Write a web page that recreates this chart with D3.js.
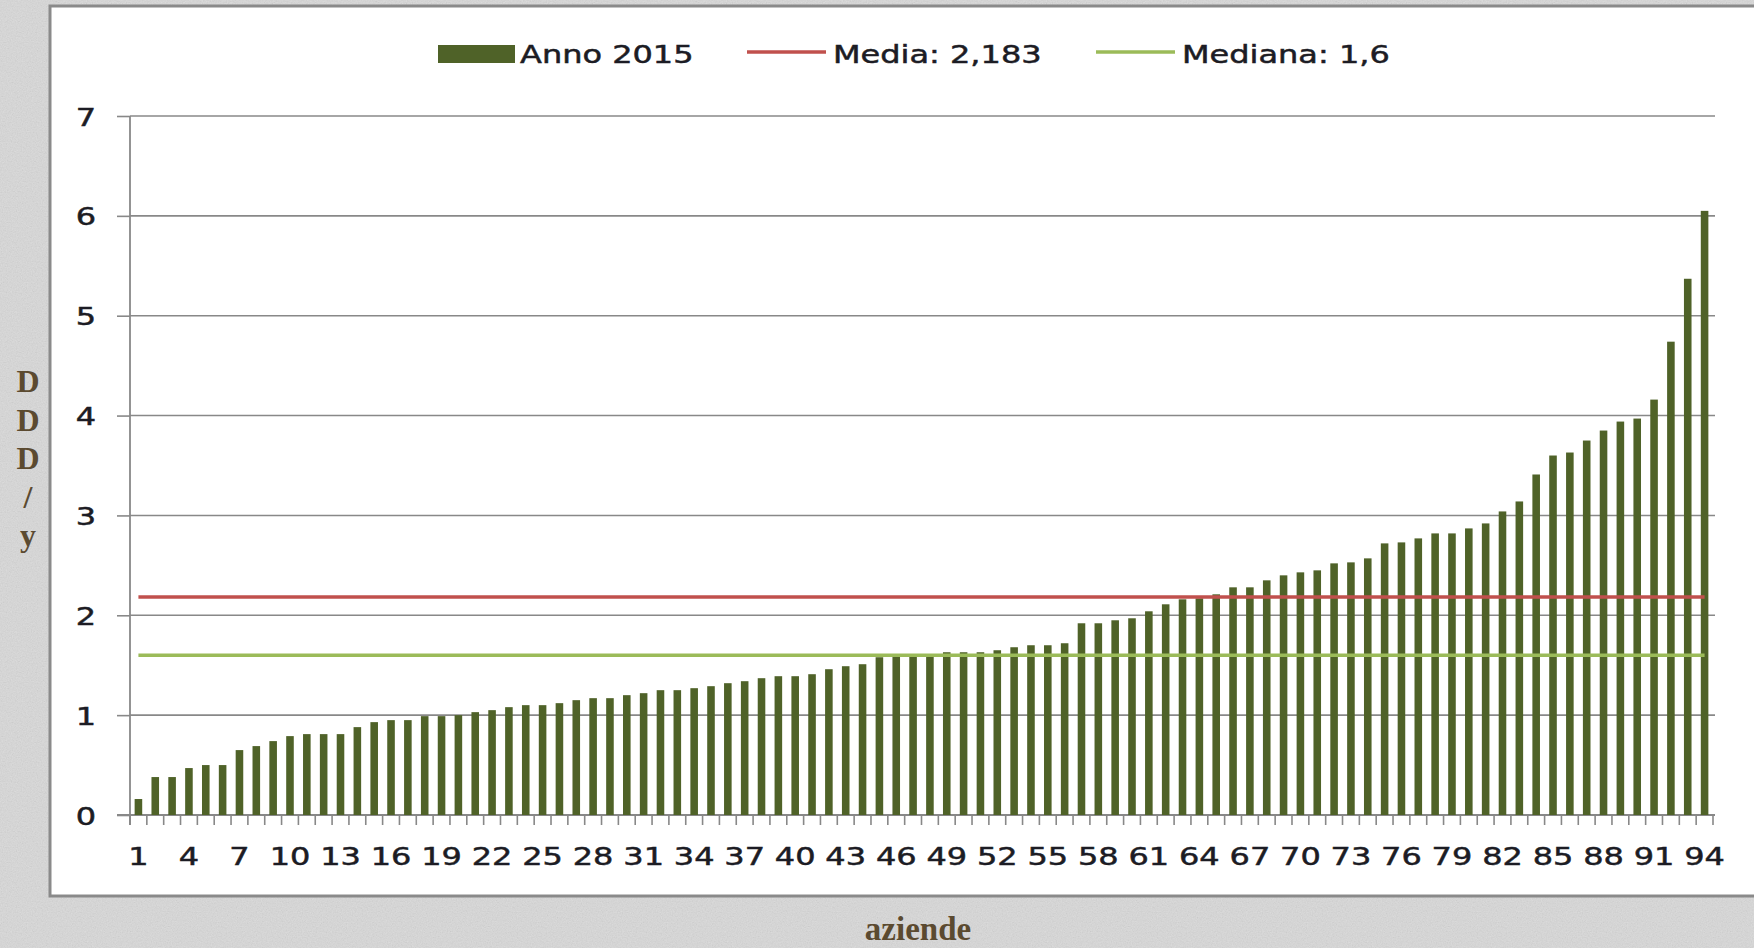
<!DOCTYPE html>
<html>
<head>
<meta charset="utf-8">
<script src="https://cdn.jsdelivr.net/npm/d3@7"></script>
<style>
  body { margin: 0; background: #d9d9d9; overflow: hidden; }
</style>
</head>
<body>
<div id="chart"></div>
<script>
// data
const aziende = d3.range(1, 95);
const anno2015 = [
  0.16, 0.38, 0.38, 0.47, 0.50, 0.50, 0.65, 0.69, 0.74, 0.79,
  0.81, 0.81, 0.81, 0.88, 0.93, 0.95, 0.95, 0.99, 0.99, 1.00,
  1.03, 1.05, 1.08, 1.10, 1.10, 1.12, 1.15, 1.17, 1.17, 1.20,
  1.22, 1.25, 1.25, 1.27, 1.29, 1.32, 1.34, 1.37, 1.39, 1.39,
  1.41, 1.46, 1.49, 1.51, 1.58, 1.59, 1.60, 1.60, 1.63, 1.63,
  1.63, 1.65, 1.68, 1.70, 1.70, 1.72, 1.92, 1.92, 1.95, 1.97,
  2.04, 2.11, 2.16, 2.17, 2.21, 2.28, 2.28, 2.35, 2.40, 2.43,
  2.45, 2.52, 2.53, 2.57, 2.72, 2.73, 2.77, 2.82, 2.82, 2.87,
  2.92, 3.04, 3.14, 3.41, 3.60, 3.63, 3.75, 3.85, 3.94, 3.97,
  4.16, 4.74, 5.37, 6.05
];
const media = 2.183;
const mediana = 1.6;
const yTicks = [0, 1, 2, 3, 4, 5, 6, 7];
const xLabels = aziende.filter((d, i) => i % 3 === 0);
const legendItems = [
  { key: "Anno 2015", type: "bar" },
  { key: "Media: 2,183", type: "media" },
  { key: "Mediana: 1,6", type: "mediana" }
];
const yTitle = "DDD/y";
const xTitle = "aziende";

const W = 1754, H = 948;
const colors = { bar: "#4f6228", media: "#c0504d", mediana: "#9bbb59" };
const sx = 1.28; // the original text is stretched sideways
const ink = "#1c1c24";

const svg = d3
  .select("#chart")
  .append("svg")
  .attr("width", W)
  .attr("height", H);

// grainy grey backdrop
const defs = svg.append("defs");
const grain = defs.append("filter").attr("id", "grain")
  .attr("x", 0).attr("y", 0).attr("width", "100%").attr("height", "100%");
grain.append("feTurbulence")
  .attr("type", "fractalNoise")
  .attr("baseFrequency", 0.8)
  .attr("numOctaves", 2)
  .attr("seed", 4);
grain.append("feColorMatrix")
  .attr("type", "matrix")
  .attr("values", "0.33 0.33 0.33 0 0 0.33 0.33 0.33 0 0 0.33 0.33 0.33 0 0 0 0 0 0 1");
svg.append("rect").attr("width", W).attr("height", H).attr("fill", "#dbdbdb");
svg.append("rect").attr("width", W).attr("height", H)
  .attr("filter", "url(#grain)").attr("opacity", 0.18);

// white chart area
svg.append("rect")
  .attr("x", 50).attr("y", 6)
  .attr("width", 1740).attr("height", 890)
  .attr("fill", "#fff")
  .attr("stroke", "#8a8a8a")
  .attr("stroke-width", 3);

const plot = { left: 130, right: 1713, top: 116, bottom: 815 };

const x = d3.scaleBand()
  .domain(aziende)
  .range([plot.left, plot.right])
  .paddingInner(0.55)
  .paddingOuter(0.275);
const y = d3.scaleLinear().domain([0, 7]).range([plot.bottom, plot.top]);

const styleText = (sel) =>
  sel
    .attr("fill", ink)
    .attr("stroke", ink)
    .attr("stroke-width", 0.5)
    .style("font", "25px 'DejaVu Sans'");

// gridlines
svg.append("g")
  .selectAll("line")
  .data(yTicks.slice(1))
  .join("line")
  .attr("x1", plot.left).attr("x2", plot.right + 2)
  .attr("y1", (d) => y(d)).attr("y2", (d) => y(d))
  .attr("stroke", "#888")
  .attr("stroke-width", 1.6);

// y axis
const yAxis = svg.append("g")
  .attr("transform", `translate(${plot.left},0)`)
  .call(d3.axisLeft(y).tickValues(yTicks).tickFormat(d3.format("d")).tickSize(13));
yAxis.select(".domain").remove();
yAxis.selectAll("line").attr("stroke", "#888").attr("stroke-width", 1.6);
yAxis.selectAll("text")
  .attr("x", -44 / sx)
  .attr("dy", "0.36em")
  .attr("text-anchor", "middle")
  .attr("transform", `scale(${sx},1)`)
  .call(styleText);
svg.append("line")
  .attr("x1", plot.left).attr("x2", plot.left)
  .attr("y1", plot.top).attr("y2", plot.bottom + 10)
  .attr("stroke", "#888").attr("stroke-width", 1.8);

// x axis: baseline, boundary ticks, every third label
svg.append("line")
  .attr("x1", plot.left - 13).attr("x2", plot.right + 2)
  .attr("y1", plot.bottom).attr("y2", plot.bottom)
  .attr("stroke", "#888").attr("stroke-width", 1.8);
const step = x.step();
const bounds = aziende.map((d) => x(d) + x.bandwidth() / 2 - step / 2)
  .concat([x(aziende[aziende.length - 1]) + x.bandwidth() / 2 + step / 2]);
svg.append("g")
  .selectAll("line")
  .data(bounds)
  .join("line")
  .attr("x1", (d) => d).attr("x2", (d) => d)
  .attr("y1", plot.bottom).attr("y2", plot.bottom + 10)
  .attr("stroke", "#888").attr("stroke-width", 1.6);

const xAxis = svg.append("g")
  .attr("transform", `translate(0,${plot.bottom})`)
  .call(d3.axisBottom(x).tickValues(xLabels).tickSize(0));
xAxis.select(".domain").remove();
xAxis.selectAll("text")
  .attr("y", 50)
  .attr("dy", 0)
  .attr("transform", `scale(${sx},1)`)
  .call(styleText);

// bars
svg.append("g")
  .selectAll("rect")
  .data(anno2015)
  .join("rect")
  .attr("x", (d, i) => x(aziende[i]))
  .attr("y", (d) => y(d))
  .attr("width", x.bandwidth())
  .attr("height", (d) => y(0) - y(d))
  .attr("fill", colors.bar);

// media & mediana lines, first to last bar centre
const line = (v) => d3.line()
  .x((d) => x(d) + x.bandwidth() / 2)
  .y(() => y(v));
svg.append("path")
  .datum(aziende)
  .attr("d", line(media))
  .attr("fill", "none")
  .attr("stroke", colors.media)
  .attr("stroke-width", 3.5);
svg.append("path")
  .datum(aziende)
  .attr("d", line(mediana))
  .attr("fill", "none")
  .attr("stroke", colors.mediana)
  .attr("stroke-width", 3.5);

// legend
const legendX = [438, 747, 1096];
const legend = svg.append("g")
  .selectAll("g")
  .data(legendItems)
  .join("g")
  .attr("transform", (d, i) => `translate(${legendX[i]},54)`);
legend.each(function (d) {
  const g = d3.select(this);
  if (d.type === "bar") {
    g.append("rect").attr("x", 0).attr("y", -9).attr("width", 77).attr("height", 18)
      .attr("fill", colors.bar);
  } else {
    g.append("line").attr("x1", 0).attr("x2", 79).attr("y1", -2).attr("y2", -2)
      .attr("stroke", colors[d.type]).attr("stroke-width", 3.5);
  }
});
legend.append("text")
  .attr("transform", (d) => `translate(${d.type === "bar" ? 82 : 86},9) scale(${sx},1)`)
  .call(styleText)
  .text((d) => d.key);

// axis titles
svg.append("g")
  .selectAll("text")
  .data(yTitle.split(""))
  .join("text")
  .attr("x", 28)
  .attr("y", (d, i) => 392 + i * 38.5)
  .attr("text-anchor", "middle")
  .attr("fill", "#5b4a30")
  .style("font", "bold 32px 'Liberation Serif'")
  .text((d) => d);
svg.append("text")
  .attr("x", 918)
  .attr("y", 940)
  .attr("text-anchor", "middle")
  .attr("fill", "#5b4a30")
  .style("font", "bold 33px 'Liberation Serif'")
  .text(xTitle);
</script>
</body>
</html>
